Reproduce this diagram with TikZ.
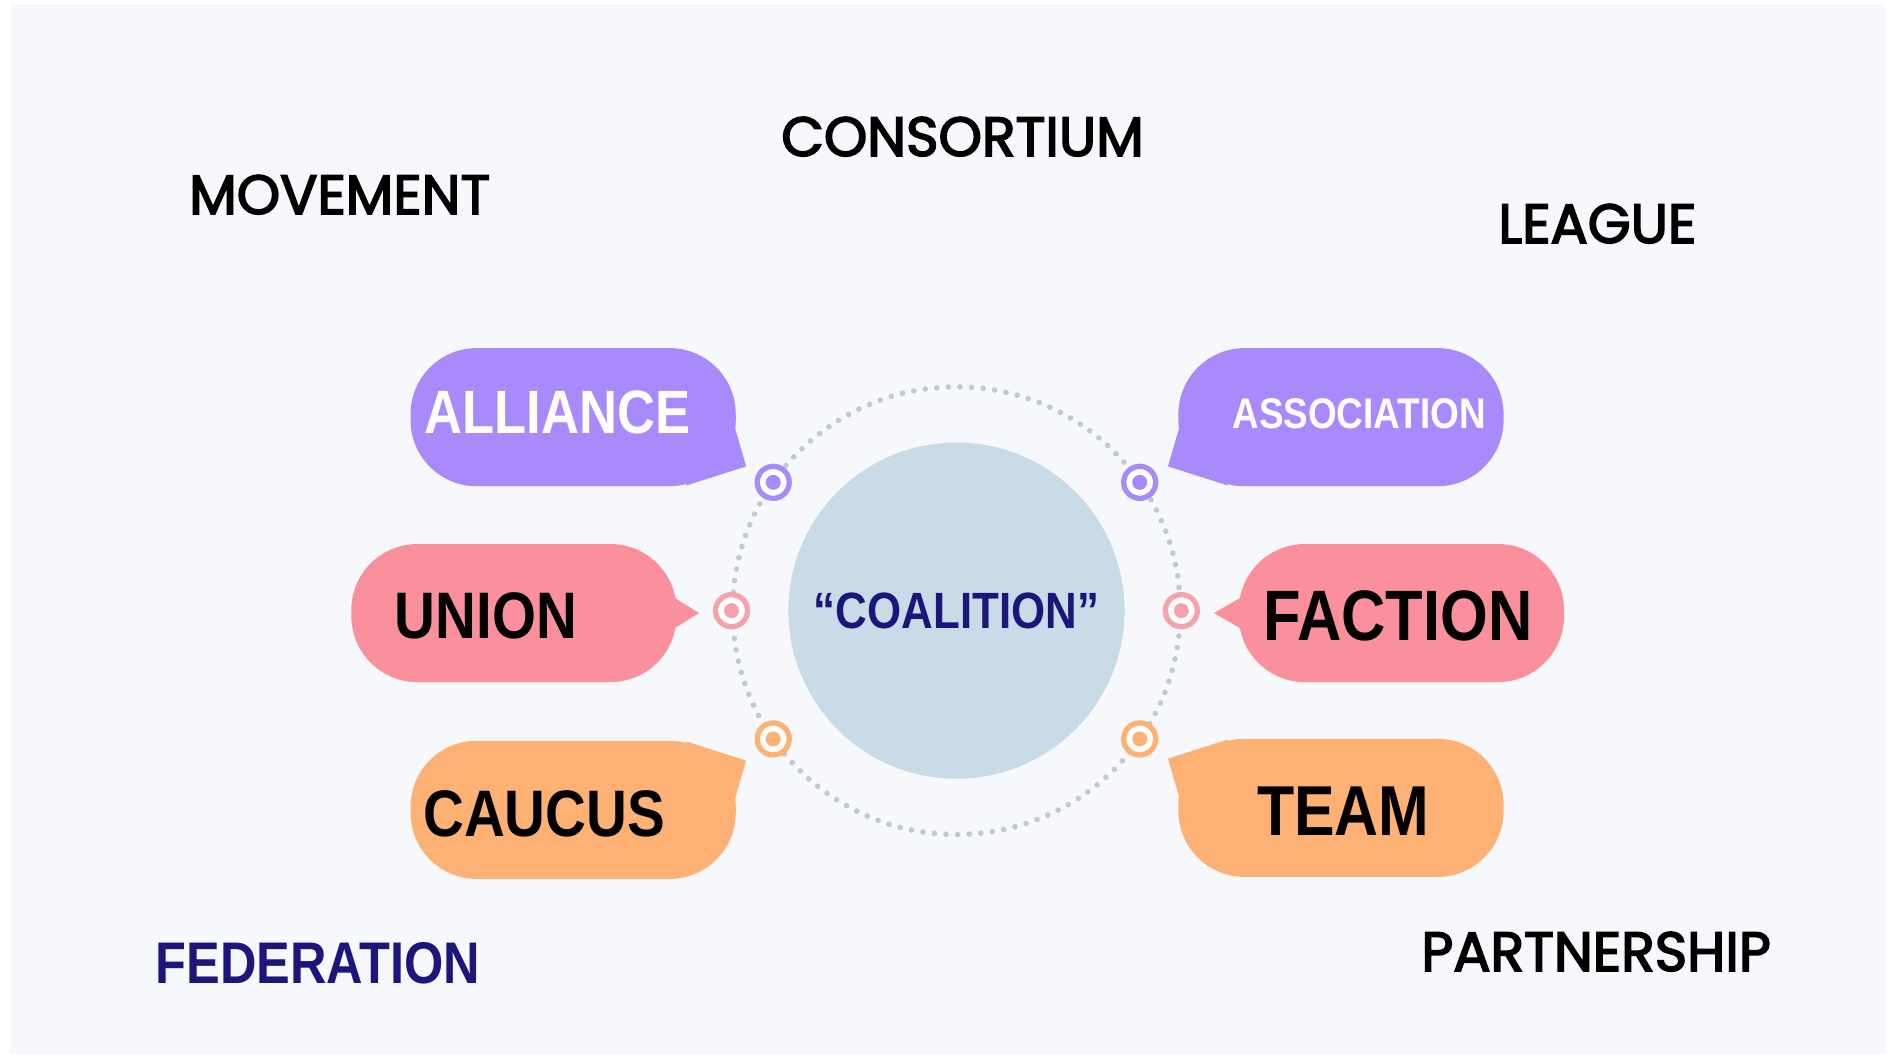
\documentclass[tikz,border=0pt]{standalone}
\usepackage{fontspec}
\usetikzlibrary{calc,positioning}
\newfontfamily\popfont{Poppins}[FakeBold=3]
\newfontfamily\arfont{Liberation Sans}[FakeStretch=0.86]

\begin{document}
\begin{tikzpicture}[
            x=0.012092cm,y=-0.012092cm,
            bubble/.style={rounded corners=0.66cm,minimum width=3.25cm,minimum height=1.38cm,inner sep=0pt},
            word/.style={inner sep=0pt,font=\arfont\bfseries\fontsize{#1}{#1}\selectfont},
            outer/.style={inner sep=0pt,font=\popfont\fontsize{15.7}{18}\selectfont},
            target/.style={circle,draw=#1,fill=white,line width=1.5pt,minimum size=3.2mm,inner sep=0pt,
                path picture={\fill[#1] (path picture bounding box.center) circle (0.75mm);}}
        ]
            \definecolor{purp}{HTML}{A98AFA}
            \definecolor{pink}{HTML}{FA909B}
            \definecolor{pinr}{HTML}{F4A3AD}
            \definecolor{oran}{HTML}{FDB174}
            \definecolor{hubc}{HTML}{C9DBE6}
            \definecolor{bgc}{HTML}{F6F8FB}
            \definecolor{navy}{HTML}{1C157A}
            \definecolor{ringc}{HTML}{C3C9D0}

            \useasboundingbox (0,0) rectangle (1568,872);
            \fill[white] (0,0) rectangle (1568,872);
            \fill[bgc] (8,3) rectangle (1559,872);

            % centre
            \node (hub) [circle,fill=hubc,minimum size=3.36cm,word=14.5,text=navy] at (791,505) {“COALITION”};
            \draw[ringc,line width=1.6pt,line cap=round,dash pattern=on 0pt off 3.3pt] (hub.center) circle (2.237cm);

            % left bubbles
            \node (ally)   [bubble,fill=purp]                    at (474,345) {};
            \node (union)  [bubble,fill=pink]                    at (425,507) {};
            \node (caucus) [bubble,fill=oran,below=2.53cm of ally]           {};
            \fill[purp] ($(ally.south east)+(-1,-48)$) -- ($(ally.south east)+(8,-17)$) -- ($(ally.south east)+(-42,-1)$) -- cycle;
            \fill[pink] ($(union.east)+(-6,-15)$) -- ($(union.east)+(18,0)$) -- ($(union.east)+(-6,15)$) -- cycle;
            \fill[oran] ($(caucus.north east)+(-1,48)$) -- ($(caucus.north east)+(8,17)$) -- ($(caucus.north east)+(-42,1)$) -- cycle;

            % right bubbles
            \node (assoc)   [bubble,fill=purp]                    at (1109,345) {};
            \node (faction) [bubble,fill=pink]                    at (1159,507) {};
            \node (team)    [bubble,fill=oran,below=2.51cm of assoc]          {};
            \fill[purp] ($(assoc.south west)+(1,-48)$) -- ($(assoc.south west)+(-8,-17)$) -- ($(assoc.south west)+(42,-1)$) -- cycle;
            \fill[pink] ($(faction.west)+(6,-15)$) -- ($(faction.west)+(-20,0)$) -- ($(faction.west)+(6,15)$) -- cycle;
            \fill[oran] ($(team.north west)+(1,48)$) -- ($(team.north west)+(-8,17)$) -- ($(team.north west)+(42,1)$) -- cycle;

            \node (allyT)    [word=17.4,white] at ($(ally)+(-13,-4)$)     {ALLIANCE};
            \node (unionT)   [word=18.7]       at ($(union)+(-23,2)$)     {UNION};
            \node (caucusT)  [word=18.7]       at ($(caucus)+(-24,3)$)    {CAUCUS};
            \node (assocT)   [word=12.2,white] at ($(assoc)+(15,-3)$)     {ASSOCIATION};
            \node (factionT) [word=20.3]       at ($(faction)+(-3,2)$)    {FACTION};
            \node (teamT)    [word=20.1]       at ($(team)+(2,3)$)        {TEAM};

            % markers on the ring
            \node (m1) [target=purp] at ($(hub.center)+(215:185)$) {};
            \node (m2) [target=purp] at ($(hub.center)+(325:185)$) {};
            \node (m3) [target=pinr] at ($(hub.center)+(180:186)$) {};
            \node (m4) [target=pinr] at ($(hub.center)+(0:186)$)   {};
            \node (m5) [target=oran] at ($(hub.center)+(145:185)$) {};
            \node (m6) [target=oran] at ($(hub.center)+(35:185)$)  {};

            % words round the edge
            \node (cons) [outer] at (796,113)  {CONSORTIUM};
            \node (move) [outer] at (281,161)  {MOVEMENT};
            \node (leag) [outer] at (1321,185) {LEAGUE};
            \node (part) [outer] at (1320,787) {PARTNERSHIP};
            \node (fede) [word=16.7,text=navy] at (263,797) {FEDERATION};
        \end{tikzpicture}
\end{document}
